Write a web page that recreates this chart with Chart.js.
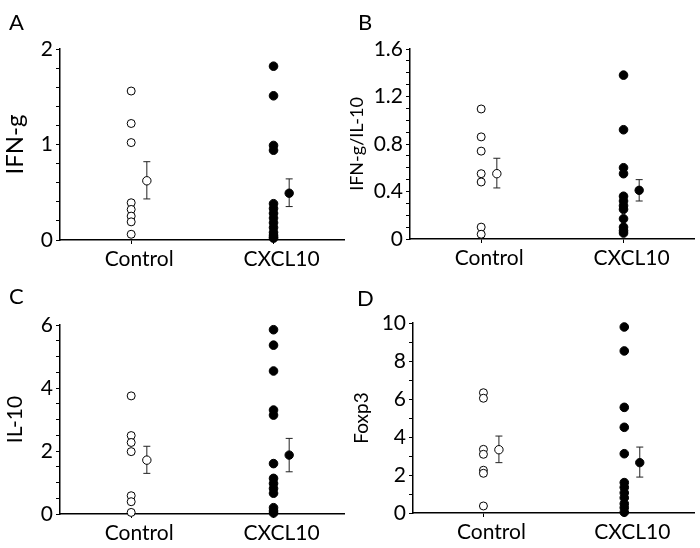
<!DOCTYPE html>
<html><head><meta charset="utf-8">
<script src="https://cdn.jsdelivr.net/npm/chart.js@4.4.1/dist/chart.umd.min.js"></script>
<style>
html,body{margin:0;padding:0;background:#fff;}
#wrap{position:relative;width:700px;height:548px;overflow:hidden;background:#fff;}
.panel{position:absolute;width:350px;height:274px;}
.panel canvas{position:absolute;left:0;top:0;}
.letter{position:absolute;font-family:Lato,"DejaVu Sans",sans-serif;font-size:22px;line-height:1;color:#000;}
</style></head><body>
<div id="wrap">
  <div class="panel" style="left:0;top:0"><canvas id="cA" width="350" height="274"></canvas></div>
  <div class="panel" style="left:350px;top:0"><canvas id="cB" width="350" height="274"></canvas></div>
  <div class="panel" style="left:0;top:274px"><canvas id="cC" width="350" height="274"></canvas></div>
  <div class="panel" style="left:350px;top:274px"><canvas id="cD" width="350" height="274"></canvas></div>
  <div class="letter" style="left:9px;top:11px">A</div>
  <div class="letter" style="left:358px;top:11px">B</div>
  <div class="letter" style="left:9px;top:285px">C</div>
  <div class="letter" style="left:357px;top:287px">D</div>
</div>
<script>
// ---------- data ----------
const categories = ['Control', 'CXCL10'];

// A: IFN-g
const ifngControl = [1.56, 1.22, 1.02, 0.39, 0.32, 0.25, 0.19, 0.06];
const ifngCxcl10  = [1.82, 1.51, 0.99, 0.94, 0.38, 0.33, 0.28, 0.23, 0.18, 0.13, 0.08, 0.05, 0.03, 0.02];
const ifngMean    = [0.62, 0.49];
const ifngErrLow  = [0.43, 0.35];
const ifngErrHigh = [0.82, 0.64];
const ifngTickLabels = ['0', '1', '2'];

// B: IFN-g/IL-10
const ratioControl = [1.095, 0.86, 0.74, 0.55, 0.48, 0.10, 0.04];
const ratioCxcl10  = [1.38, 0.92, 0.60, 0.55, 0.36, 0.32, 0.28, 0.25, 0.17, 0.10, 0.07, 0.05];
const ratioMean    = [0.55, 0.41];
const ratioErrLow  = [0.43, 0.32];
const ratioErrHigh = [0.68, 0.50];
const ratioTickLabels = ['0', '0.4', '0.8', '1.2', '1.6'];

// C: IL-10
const il10Control = [3.75, 2.49, 2.27, 1.98, 0.58, 0.39, 0.05];
const il10Cxcl10  = [5.85, 5.36, 4.54, 3.30, 3.14, 1.60, 1.13, 0.97, 0.81, 0.66, 0.20, 0.10, 0.03];
const il10Mean    = [1.71, 1.87];
const il10ErrLow  = [1.29, 1.34];
const il10ErrHigh = [2.15, 2.40];
const il10TickLabels = ['0', '2', '4', '6'];

// D: Foxp3
const foxp3Control = [6.33, 6.04, 3.35, 3.09, 2.25, 2.09, 0.37];
const foxp3Cxcl10  = [9.79, 8.53, 5.56, 4.51, 3.12, 1.60, 1.35, 1.06, 0.80, 0.49, 0.28, 0.04];
const foxp3Mean    = [3.33, 2.65];
const foxp3ErrLow  = [2.65, 1.89];
const foxp3ErrHigh = [4.05, 3.47];
const foxp3TickLabels = ['0', '2', '4', '6', '8', '10'];

// ---------- drawing ----------
const FONT = 'Lato, "DejaVu Sans", sans-serif';
const catX = [1, 3];
const meanShift = 0.22;

function panel(id, d) {
  const openPt = {pointRadius: 4, pointBackgroundColor: '#fff', pointBorderColor: '#000', pointBorderWidth: 1, clip: false};
  const fillPt = {pointRadius: 4.3, pointBackgroundColor: '#000', pointBorderColor: '#000', pointBorderWidth: 1, clip: false};
  const errDs = (i) => ({
    data: [{x: catX[i] + meanShift, y: d.lo[i]}, {x: catX[i] + meanShift, y: d.hi[i]}],
    showLine: true, borderColor: '#222', borderWidth: 1,
    pointStyle: 'line', pointRadius: 3.5, pointBorderColor: '#222', pointBorderWidth: 1, clip: false
  });
  new Chart(document.getElementById(id), {
    type: 'scatter',
    data: {datasets: [
      Object.assign({data: d.mean.map((m, i) => ({x: catX[i] + meanShift, y: m}))}, openPt,
        {pointRadius: 4.2, pointBackgroundColor: ['#fff', '#000']}),
      Object.assign({data: d.ctrl.map(v => ({x: catX[0], y: v}))}, openPt),
      Object.assign({data: d.cx.map(v => ({x: catX[1], y: v}))}, fillPt),
      errDs(0), errDs(1)
    ]},
    options: {
      responsive: false, animation: false, events: [],
      layout: {padding: {top: d.area.top, right: 5, left: 0, bottom: 0}},
      plugins: {legend: {display: false}, tooltip: {enabled: false}},
      scales: {
        x: {
          type: 'linear', min: 0, max: 4,
          afterBuildTicks: s => { s.ticks = catX.map(v => ({value: v})); },
          afterFit: s => { s.height = 274 - d.area.bottom; },
          grid: {drawOnChartArea: false, tickLength: 4, color: '#000', lineWidth: 1},
          border: {display: true, color: '#000', width: 1.5},
          ticks: {callback: (v, i) => categories[i], font: {family: FONT, size: 21}, color: '#000',
                  padding: 3, labelOffset: 8, maxRotation: 0, autoSkip: false}
        },
        y: {
          min: 0, max: d.yMax,
          afterFit: s => { s.width = d.area.left; },
          grid: {drawOnChartArea: false, tickLength: 4, color: '#000', lineWidth: 1},
          border: {display: true, color: '#000', width: 1.5},
          ticks: {stepSize: d.step, autoSkip: false, font: {family: FONT, size: 21}, color: '#000', padding: 3,
                  callback: v => { const t = d.labels.find(l => Math.abs(parseFloat(l) - v) < 1e-6); return t === undefined ? '' : t; }},
          title: {display: true, text: d.title, font: {family: FONT, size: d.titleSize}, color: '#000',
                  padding: {top: d.titlePad, bottom: 0}}
        }
      }
    }
  });
}

panel('cA', {ctrl: ifngControl, cx: ifngCxcl10, mean: ifngMean, lo: ifngErrLow, hi: ifngErrHigh,
  yMax: 2, step: 0.2, labels: ifngTickLabels, title: 'IFN-g', titleSize: 24, titlePad: 1,
  area: {left: 60, top: 49, bottom: 240}});
panel('cB', {ctrl: ratioControl, cx: ratioCxcl10, mean: ratioMean, lo: ratioErrLow, hi: ratioErrHigh,
  yMax: 1.6, step: 0.1, labels: ratioTickLabels, title: 'IFN-g/IL-10', titleSize: 18, titlePad: -4,
  area: {left: 60, top: 49, bottom: 239}});
panel('cC', {ctrl: il10Control, cx: il10Cxcl10, mean: il10Mean, lo: il10ErrLow, hi: il10ErrHigh,
  yMax: 6, step: 0.5, labels: il10TickLabels, title: 'IL-10', titleSize: 21, titlePad: 3,
  area: {left: 60, top: 51, bottom: 240}});
panel('cD', {ctrl: foxp3Control, cx: foxp3Cxcl10, mean: foxp3Mean, lo: foxp3ErrLow, hi: foxp3ErrHigh,
  yMax: 10, step: 1, labels: foxp3TickLabels, title: 'Foxp3', titleSize: 19, titlePad: 0,
  area: {left: 63, top: 49, bottom: 239}});
</script>
</body></html>
